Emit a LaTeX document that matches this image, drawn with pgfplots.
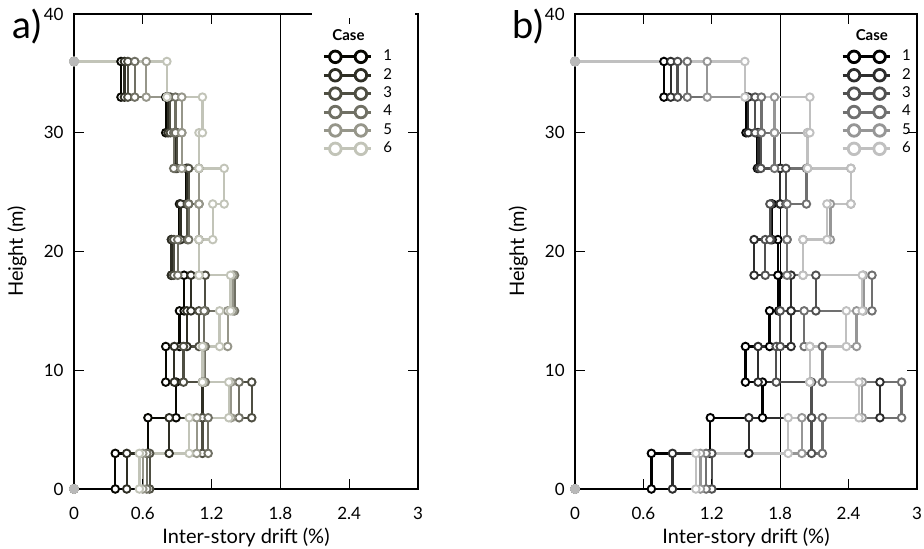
\documentclass[border=0pt]{standalone}
\usepackage{fontspec}
\setmainfont{Lato}
\usepackage{pgfplots}
\pgfplotsset{compat=1.18}

% panel a: slightly olive greys, panel b: neutral greys
\definecolor{a1}{RGB}{6,6,0}
\definecolor{a2}{RGB}{46,46,36}
\definecolor{a3}{RGB}{78,78,66}
\definecolor{a4}{RGB}{112,112,100}
\definecolor{a5}{RGB}{150,150,138}
\definecolor{a6}{RGB}{194,196,184}
\definecolor{b1}{RGB}{0,0,0}
\definecolor{b2}{RGB}{45,45,45}
\definecolor{b3}{RGB}{80,80,80}
\definecolor{b4}{RGB}{112,112,112}
\definecolor{b5}{RGB}{150,150,150}
\definecolor{b6}{RGB}{192,192,192}

\pgfplotsset{
  drift/.style={
    scale only axis, width=172pt, height=237.5pt,
    xmin=0, xmax=3, ymin=0, ymax=40,
    xtick={0,0.6,1.2,1.8,2.4,3}, xticklabels={0,0.6,1.2,1.8,2.4,3},
    ytick={0,10,20,30,40}, yticklabels={0,10,20,30,40},
    tick align=inside, major tick length=5pt,
    axis line style={line width=1.4pt},
    every tick/.style={black, line width=0.6pt},
    tick label style={font=\fontsize{8.5}{10}\selectfont},
    xticklabel style={anchor=base, yshift=-15.5pt},
    yticklabel style={anchor=east, inner sep=0pt, xshift=-5pt},
    xlabel={Inter-story drift (\%)}, ylabel={Height (m)},
    label style={font=\fontsize{10}{12}\selectfont},
    xlabel style={at={(axis description cs:0.5,-0.101)}, anchor=center},
    ylabel style={at={(axis description cs:-0.166,0.5)}, anchor=center},
    clip=false, axis on top,
    legend cell align=left,
    legend image code/.code={
      \draw[##1, mark=none, line width=1.5pt] (0pt,0pt) -- (23.5pt,0pt);
      \draw[##1, mark=none, line width=1.4pt, fill=white]
        (5.7pt,0pt) circle[radius=2.9pt] (18.5pt,0pt) circle[radius=2.9pt];
    },
    legend style={draw=none, fill=none, inner sep=0pt,
      font=\fontsize{7.5}{8}\selectfont, row sep=0pt,
      nodes={inner sep=0pt, minimum height=9.2pt},
      /tikz/every odd column/.append style={column sep=5.5pt}},
  },
  cs/.style={color=#1, line width=1.15pt, mark=*, mark size=1.9pt,
    mark options={fill=white, line width=0.95pt}},
}

\begin{document}
\begin{tikzpicture}
\useasboundingbox (-37pt,-30pt) rectangle (425pt,244.5pt);

\begin{axis}[drift, at={(0pt,0pt)}, anchor=south west,
  legend style={at={(axis description cs:0.721,0.93)}, anchor=north west}]
\addplot[forget plot, black, line width=0.5pt] coordinates {(1.8,0) (1.8,40)};
\addplot[cs=a1] coordinates {(0,0) (0.36,0) (0.36,3) (0.645,3) (0.645,6) (0.89,6) (0.89,9) (0.80,9) (0.80,12) (0.92,12) (0.92,15) (0.96,15) (0.96,18) (0.85,18) (0.85,21) (0.92,21) (0.92,24) (0.98,24) (0.98,27) (0.89,27) (0.89,30) (0.80,30) (0.80,33) (0.41,33) (0.41,36) (0,36)};
\addlegendentry{1}
\addplot[cs=a2] coordinates {(0,0) (0.46,0) (0.46,3) (0.83,3) (0.83,6) (1.12,6) (1.12,9) (0.875,9) (0.875,12) (0.985,12) (0.985,15) (1.02,15) (1.02,18) (0.85,18) (0.85,21) (0.93,21) (0.93,24) (0.99,24) (0.99,27) (0.88,27) (0.88,30) (0.82,30) (0.82,33) (0.44,33) (0.44,36) (0,36)};
\addlegendentry{2}
\addplot[cs=a3] coordinates {(0,0) (0.66,0) (0.66,3) (1.12,3) (1.12,6) (1.55,6) (1.55,9) (0.955,9) (0.955,12) (1.09,12) (1.09,15) (1.145,15) (1.145,18) (0.87,18) (0.87,21) (0.99,21) (0.99,24) (1.00,24) (1.00,27) (0.90,27) (0.90,30) (0.84,30) (0.84,33) (0.47,33) (0.47,36) (0,36)};
\addlegendentry{3}
\addplot[cs=a4] coordinates {(0,0) (0.635,0) (0.635,3) (1.17,3) (1.17,6) (1.44,6) (1.44,9) (1.145,9) (1.145,12) (1.135,12) (1.135,15) (1.40,15) (1.40,18) (0.905,18) (0.905,21) (1.00,21) (1.00,24) (1.09,24) (1.09,27) (0.87,27) (0.87,30) (0.885,30) (0.885,33) (0.53,33) (0.53,36) (0,36)};
\addlegendentry{4}
\addplot[cs=a5] coordinates {(0,0) (0.60,0) (0.60,3) (1.07,3) (1.07,6) (1.37,6) (1.37,9) (1.13,9) (1.13,12) (1.34,12) (1.34,15) (1.385,15) (1.385,18) (1.09,18) (1.09,21) (1.09,21) (1.09,24) (1.09,24) (1.09,27) (0.94,27) (0.94,30) (0.94,30) (0.94,33) (0.63,33) (0.63,36) (0,36)};
\addlegendentry{5}
\addplot[cs=a6] coordinates {(0,0) (0.57,0) (0.57,3) (1.005,3) (1.005,6) (1.35,6) (1.35,9) (1.12,9) (1.12,12) (1.27,12) (1.27,15) (1.365,15) (1.365,18) (1.09,18) (1.09,21) (1.21,21) (1.21,24) (1.31,24) (1.31,27) (1.09,27) (1.09,30) (1.12,30) (1.12,33) (0.81,33) (0.81,36) (0,36)};
\addlegendentry{6}
\addplot[forget plot, only marks, mark=*, mark size=2.3pt, color=gray!55] coordinates {(0,0) (0,36)};
\node[font=\bfseries\fontsize{7.5}{8}\selectfont] at (axis description cs:0.798,0.956) {Case};
\end{axis}
% the legend box of panel a hides the top frame on its right part
\fill[white] (119pt,235.5pt) rectangle (170.5pt,240pt);

\begin{axis}[drift, at={(250.5pt,0pt)}, anchor=south west, width=171pt,
  legend style={at={(axis description cs:0.777,0.93)}, anchor=north west}]
\addplot[forget plot, black, line width=0.5pt] coordinates {(1.8,0) (1.8,40)};
\addplot[cs=b1] coordinates {(0,0) (0.67,0) (0.67,3) (1.187,3) (1.187,6) (1.645,6) (1.645,9) (1.495,9) (1.495,12) (1.707,12) (1.707,15) (1.786,15) (1.786,18) (1.78,18) (1.78,21) (1.73,21) (1.73,24) (1.80,24) (1.80,27) (1.60,27) (1.60,30) (1.50,30) (1.50,33) (0.78,33) (0.78,36) (0,36)};
\addlegendentry{1}
\addplot[cs=b2] coordinates {(0,0) (0.855,0) (0.855,3) (1.525,3) (1.525,6) (2.675,6) (2.675,9) (1.606,9) (1.606,12) (1.895,12) (1.895,15) (1.895,15) (1.895,18) (1.571,18) (1.571,21) (1.72,21) (1.72,24) (1.80,24) (1.80,27) (1.61,27) (1.61,30) (1.52,30) (1.52,33) (0.84,33) (0.84,36) (0,36)};
\addlegendentry{2}
\addplot[cs=b3] coordinates {(0,0) (1.20,0) (1.20,3) (2.075,3) (2.075,6) (2.075,6) (2.075,9) (1.765,9) (1.765,12) (1.80,12) (1.80,15) (2.113,15) (2.113,18) (1.669,18) (1.669,21) (1.71,21) (1.71,24) (1.85,24) (1.85,27) (1.63,27) (1.63,30) (1.58,30) (1.58,33) (0.90,33) (0.90,36) (0,36)};
\addlegendentry{3}
\addplot[cs=b4] coordinates {(0,0) (1.15,0) (1.15,3) (2.17,3) (2.17,6) (2.865,6) (2.865,9) (2.17,9) (2.17,12) (2.01,12) (2.01,15) (2.605,15) (2.605,18) (1.86,18) (1.86,21) (1.86,21) (1.86,24) (2.03,24) (2.03,27) (1.75,27) (1.75,30) (1.635,30) (1.635,33) (0.985,33) (0.985,36) (0,36)};
\addlegendentry{4}
\addplot[cs=b5] coordinates {(0,0) (1.10,0) (1.10,3) (1.99,3) (1.99,6) (2.52,6) (2.52,9) (2.06,9) (2.06,12) (2.47,12) (2.47,15) (2.53,15) (2.53,18) (2.0,18) (2.0,21) (2.24,21) (2.24,24) (2.42,24) (2.42,27) (2.04,27) (2.04,30) (1.75,30) (1.75,33) (1.16,33) (1.16,36) (0,36)};
\addlegendentry{5}
\addplot[cs=b6] coordinates {(0,0) (1.06,0) (1.06,3) (1.87,3) (1.87,6) (2.49,6) (2.49,9) (2.06,9) (2.06,12) (2.38,12) (2.38,15) (2.52,15) (2.52,18) (2.0,18) (2.0,21) (2.21,21) (2.21,24) (2.42,24) (2.42,27) (2.04,27) (2.04,30) (2.06,30) (2.06,33) (1.49,33) (1.49,36) (0,36)};
\addlegendentry{6}
\addplot[forget plot, only marks, mark=*, mark size=2.3pt, color=gray!55] coordinates {(0,0) (0,36)};
\node[font=\bfseries\fontsize{7.5}{8}\selectfont] at (axis description cs:0.868,0.956) {Case};
\end{axis}

\node[font=\fontsize{19}{22}\selectfont] at (-23.5pt,231pt) {a)};
\node[font=\fontsize{19}{22}\selectfont] at (227pt,231pt) {b)};
\end{tikzpicture}
\end{document}
